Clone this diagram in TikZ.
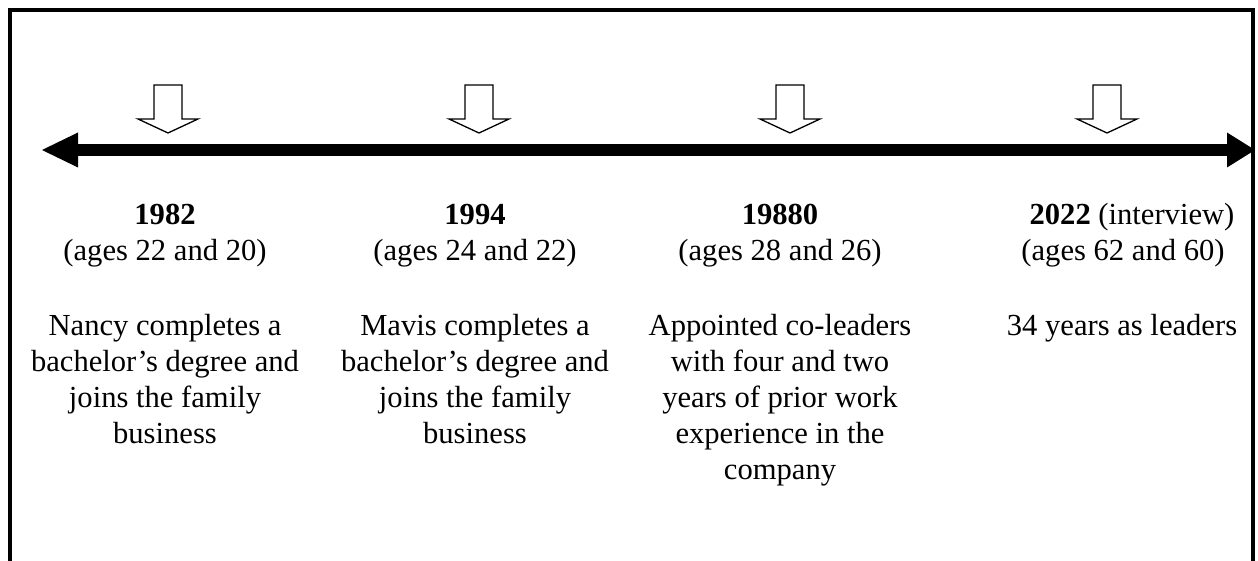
\documentclass[tikz,border=0pt]{standalone}
\usepackage{fontspec}
\setmainfont{Liberation Serif}
\begin{document}
\begin{tikzpicture}[x=1pt,y=-1pt,
  frame/.style={line width=4pt,line join=miter},
  shaft/.style={line width=12pt},
  headtip/.style={fill=black},
  marker/.style={draw=black,fill=white,line width=1.3pt,line join=miter},
  txt/.style={font=\fontsize{30.6}{36.2}\selectfont,align=center,anchor=base,inner sep=0pt}]
\useasboundingbox (0,0) rectangle (1258,561);

% open frame (no bottom edge)
\coordinate (fbl) at (10,561);
\coordinate (ftl) at (10,10);
\coordinate (ftr) at (1252.5,10);
\coordinate (fbr) at (1252.5,561);
\draw[frame] (fbl) -- (ftl) -- (ftr) -- (fbr);

% double-headed timeline
\coordinate (tl)  at (42,150);
\coordinate (tlb) at (78,150);
\coordinate (trb) at (1227,150);
\coordinate (tr)  at (1255,150);
\draw[shaft] (tlb) -- (trb);
\fill[headtip] (tl) -- ([yshift=17.5pt]tlb) -- ([yshift=-17.5pt]tlb) -- cycle;
\fill[headtip] (tr) -- ([yshift=17.5pt]trb) -- ([yshift=-17.5pt]trb) -- cycle;

% hollow down arrows marking each event
\foreach \c in {168,479,790,1107}{
  \begin{scope}[shift={(\c,0)}]
    \draw[marker] (-14,85) -- (14,85) -- (14,119) -- (30,119) -- (0,133)
      -- (-30,119) -- (-14,119) -- cycle;
  \end{scope}
}

% multi-line texts are placed by the baseline of their last line
% event 1
\node[txt] (y1) at (165,225) {\textbf{1982}};
\node[txt] (a1) at (165,261) {(ages 22 and 20)};
\node[txt] (d1) at (165,443.6) {Nancy completes a\\bachelor’s degree and\\joins the family\\business};

% event 2
\node[txt] (y2) at (475,225) {\textbf{1994}};
\node[txt] (a2) at (475,261) {(ages 24 and 22)};
\node[txt] (d2) at (475,443.6) {Mavis completes a\\bachelor’s degree and\\joins the family\\business};

% event 3
\node[txt] (y3) at (780,225) {\textbf{19880}};
\node[txt] (a3) at (780,261) {(ages 28 and 26)};
\node[txt] (d3) at (780,479.8) {Appointed co-leaders\\with four and two\\years of prior work\\experience in the\\company};

% event 4
\node[txt] (y4) at (1132,225) {\textbf{2022} (interview)};
\node[txt] (a4) at (1123,261) {(ages 62 and 60)};
\node[txt] (d4) at (1122,335) {34 years as leaders};
\end{tikzpicture}
\end{document}
